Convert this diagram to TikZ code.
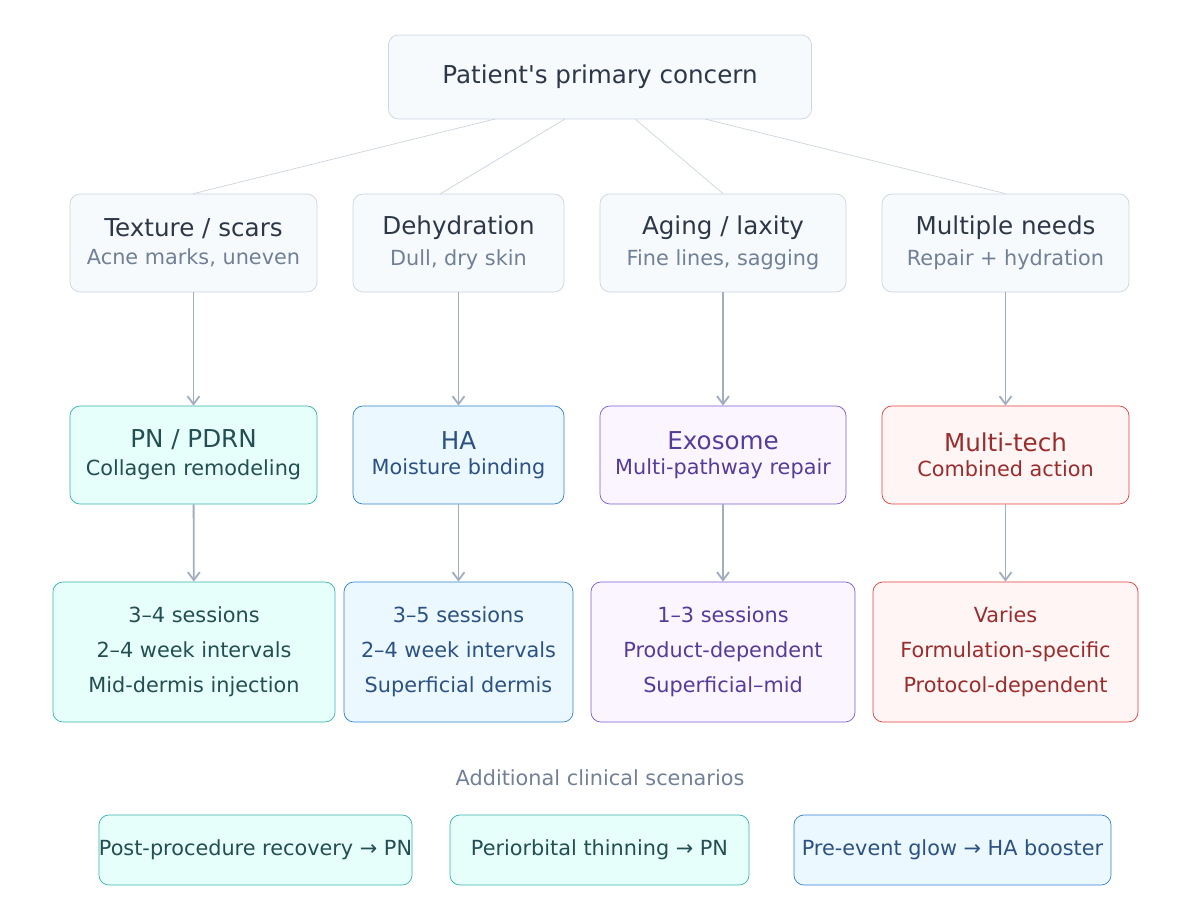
\documentclass[tikz,border=0pt]{standalone}
\usepackage{fontspec}
\setmainfont{DejaVu Sans}
\usetikzlibrary{positioning, arrows.meta}

\definecolor{grayfill}{HTML}{F7FAFC}
\definecolor{grayline}{HTML}{CBD5E0}
\definecolor{graytext}{HTML}{2D3748}
\definecolor{graysub}{HTML}{718096}
\definecolor{arrowgray}{HTML}{A0AEC0}
\definecolor{tealfill}{HTML}{E6FFFA}
\definecolor{tealline}{HTML}{38B2AC}
\definecolor{tealtext}{HTML}{234E52}
\definecolor{bluefill}{HTML}{EBF8FF}
\definecolor{blueline}{HTML}{3182CE}
\definecolor{bluetext}{HTML}{2C5282}
\definecolor{purpfill}{HTML}{FAF5FF}
\definecolor{purpline}{HTML}{805AD5}
\definecolor{purptext}{HTML}{553C9A}
\definecolor{redfill}{HTML}{FFF5F5}
\definecolor{redline}{HTML}{E53E3E}
\definecolor{redtext}{HTML}{9B2C2C}

\newcommand{\ttlfont}{\fontsize{17.5}{20}\selectfont}
\newcommand{\subfont}{\fontsize{14.8}{18}\selectfont}

\begin{document}
\begin{tikzpicture}[
    x=0.025cm, y=-0.025cm,
    box/.style={rectangle, rounded corners=0.25cm, draw, line width=0.5pt, align=center, inner sep=0pt},
    concern/.style={box, fill=grayfill, draw=grayline, minimum height=2.45cm},
    method/.style={box, minimum height=2.45cm},
    plan/.style={box, minimum height=3.5cm, font=\fontsize{14.8}{25}\selectfont},
    extra/.style={box, minimum height=1.75cm, font=\subfont},
    arrow/.style={-{Straight Barb[length=2mm, width=3mm]}, arrowgray, line width=1.3pt},
    link/.style={grayline, line width=0.5pt}
]
    \useasboundingbox (0,0) rectangle (1200,918);

    % Root
    \node[box, fill=grayfill, draw=grayline, minimum width=10.575cm, minimum height=2.1cm,
          text=graytext, font=\ttlfont] (root) at (600,77) {Patient\textquotesingle s primary concern};

    % Concerns
    \node[concern, minimum width=6.175cm] (texture) at (193.5,243)
        {\ttlfont\color{graytext}Texture / scars\\[6pt]\subfont\color{graysub}Acne marks, uneven};
    \node[concern, minimum width=5.275cm] (dehyd) at (458.5,243)
        {\ttlfont\color{graytext}Dehydration\\[6pt]\subfont\color{graysub}Dull, dry skin};
    \node[concern, minimum width=6.15cm] (aging) at (723,243)
        {\ttlfont\color{graytext}Aging / laxity\\[6pt]\subfont\color{graysub}Fine lines, sagging};
    \node[concern, minimum width=6.175cm] (multi) at (1005.5,243)
        {\ttlfont\color{graytext}Multiple needs\\[6pt]\subfont\color{graysub}Repair + hydration};

    % Methods
    \node[method, fill=tealfill, draw=tealline, text=tealtext, minimum width=6.175cm] (pn) at (193.5,455)
        {\ttlfont PN / PDRN\\[6pt]\subfont Collagen remodeling};
    \node[method, fill=bluefill, draw=blueline, text=bluetext, minimum width=5.275cm] (ha) at (458.5,455)
        {\ttlfont HA\\[6pt]\subfont Moisture binding};
    \node[method, fill=purpfill, draw=purpline, text=purptext, minimum width=6.15cm] (exo) at (723,455)
        {\ttlfont Exosome\\[6pt]\subfont Multi-pathway repair};
    \node[method, fill=redfill, draw=redline, text=redtext, minimum width=6.175cm] (mt) at (1005.5,455)
        {\ttlfont Multi-tech\\[6pt]\subfont Combined action};

    % Protocols
    \node[plan, fill=tealfill, draw=tealline, text=tealtext, minimum width=7.05cm] (pnplan) at (194,652)
        {3–4 sessions\\2–4 week intervals\\Mid-dermis injection};
    \node[plan, fill=bluefill, draw=blueline, text=bluetext, minimum width=5.725cm] (haplan) at (458.5,652)
        {3–5 sessions\\2–4 week intervals\\Superficial dermis};
    \node[plan, fill=purpfill, draw=purpline, text=purptext, minimum width=6.6cm] (exoplan) at (723,652)
        {1–3 sessions\\Product-dependent\\Superficial–mid};
    \node[plan, fill=redfill, draw=redline, text=redtext, minimum width=6.625cm] (mtplan) at (1005.5,652)
        {Varies\\Formulation-specific\\Protocol-dependent};

    % Links from root
    \draw[link] (495,119) -- (texture.north);
    \draw[link] (565,119) -- (440,194);
    \draw[link] (635,119) -- (aging.north);
    \draw[link] (705,119) -- (multi.north);

    % Arrows
    \foreach \a/\b/\c in {texture/pn/pnplan, dehyd/ha/haplan, aging/exo/exoplan, multi/mt/mtplan} {
        \draw[arrow] (\a) -- (\b);
        \draw[arrow] (\b) -- (\c);
    }

    % Additional scenarios
    \node[text=graysub, font=\subfont] (addl) at (600,778) {Additional clinical scenarios};
    \node[extra, fill=tealfill, draw=tealline, text=tealtext, minimum width=7.475cm] (post) at (255.5,850)
        {Post-procedure recovery → PN};
    \node[extra, fill=tealfill, draw=tealline, text=tealtext, minimum width=7.475cm] (peri) at (599.5,850)
        {Periorbital thinning → PN};
    \node[extra, fill=bluefill, draw=blueline, text=bluetext, minimum width=7.925cm] (glow) at (952.5,850)
        {Pre-event glow → HA booster};
\end{tikzpicture}
\end{document}
